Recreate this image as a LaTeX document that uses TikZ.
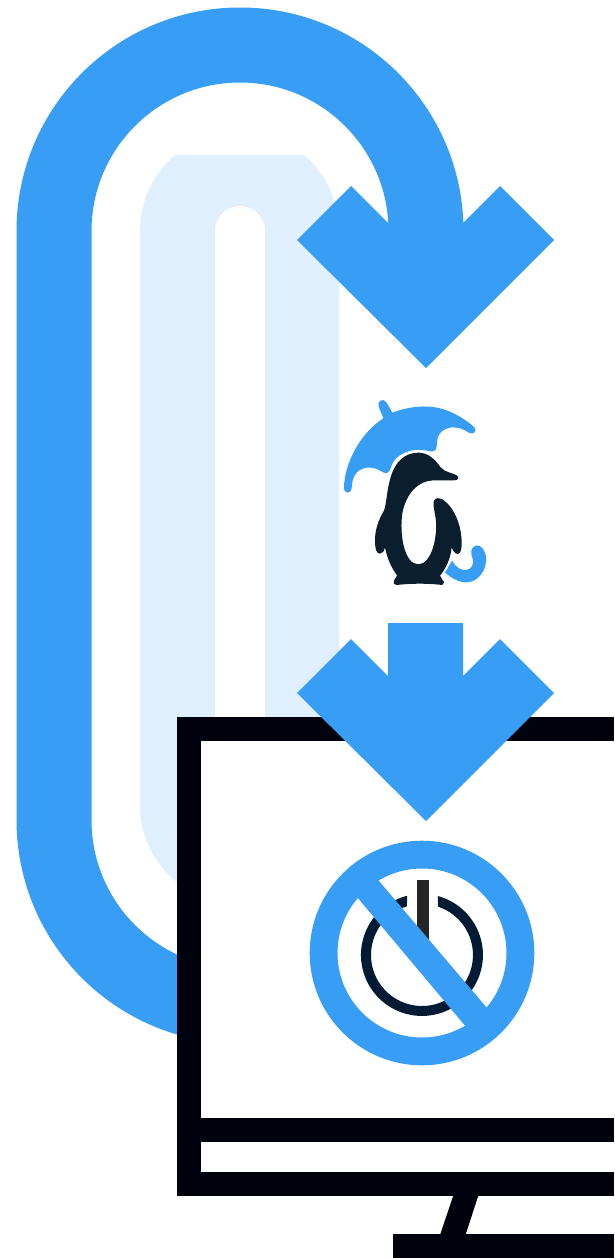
\documentclass[tikz,border=0pt]{standalone}
\definecolor{bl}{HTML}{379DF5}
\definecolor{pale}{HTML}{DFEFFD}
\definecolor{mon}{HTML}{00020E}
\definecolor{peng}{HTML}{0A1E2E}
\definecolor{pwr}{HTML}{001B33}
\definecolor{stick}{HTML}{252525}
\begin{document}
\begin{tikzpicture}[x=1pt,y=1pt,yscale=-1,line join=miter]
\path[use as bounding box] (0,0) rectangle (614,1258);
\fill[white] (0,0) rectangle (614,1258);
% pale loop
\begin{scope}
\clip (0,155) rectangle (614,1258);
\fill[pale] (140,805) -- (140,231) arc[start angle=180,end angle=360,radius=99.5] -- (339,805) arc[start angle=0,end angle=180,radius=99.5] -- cycle;
\end{scope}
\fill[white] (215,231) arc[start angle=180,end angle=360,radius=25] -- (265,900) -- (215,900) -- cycle;
% blue loop
\draw[bl,line width=75pt,line cap=butt] (240,1006) arc[start angle=90,end angle=180,radius=186] -- (54,231) arc[start angle=180,end angle=360,radius=186] -- (426,260);
% monitor
\fill[mon] (177,717) rectangle (614,1196);
\fill[white] (201,741) rectangle (614,1118);
\fill[white] (201,1142) rectangle (614,1172);
\fill[mon] (453.5,1195) -- (478.5,1195) -- (465.5,1235) -- (440,1235) -- cycle;
\fill[mon] (393,1234) rectangle (614,1258);
% arrows
\fill[bl] (297,240) -- (351,186) -- (388,223) -- (463,223) -- (500,186) -- (554,240) -- (426,368) -- cycle;
\fill[bl] (297,693) -- (351,639) -- (388,676) -- (388,623) -- (463,623) -- (463,676) -- (500,639) -- (554,693) -- (426,821) -- cycle;
% penguin with umbrella
\begin{scope}[shift={(330,390)},scale=0.33333]
\fill[bl] (52,308) .. controls (44,308) and (42,300) .. (42,290)
 .. controls (44,220) and (90,130) .. (160,85)
 -- (146,50) .. controls (140,32) and (160,22) .. (170,38)
 -- (187,68) .. controls (240,48) and (290,45) .. (330,55)
 .. controls (370,65) and (410,90) .. (434,113)
 .. controls (442,124) and (430,134) .. (418,129)
 .. controls (395,112) and (362,105) .. (338,122)
 .. controls (322,134) and (321,150) .. (320,170)
 .. controls (318,184) and (308,187) .. (296,183)
 .. controls (262,175) and (225,180) .. (198,205)
 .. controls (186,218) and (184,230) .. (178,243)
 .. controls (172,252) and (162,250) .. (154,244)
 .. controls (128,228) and (98,228) .. (78,250)
 .. controls (68,262) and (66,280) .. (65,294)
 .. controls (64,304) and (58,308) .. (52,308) -- cycle;
\fill[bl] (345,548) -- (366,512) .. controls (376,530) and (392,542) .. (408,540)
 .. controls (426,538) and (432,522) .. (428,506)
 .. controls (420,488) and (422,474) .. (436,467)
 .. controls (452,462) and (464,478) .. (468,500)
 .. controls (472,540) and (445,576) .. (410,577)
 .. controls (385,578) and (362,562) .. (345,548) -- cycle;
\fill[peng] (265,188) .. controls (295,188) and (315,208) .. (332,232)
 .. controls (345,248) and (368,248) .. (380,256)
 .. controls (390,262) and (385,271) .. (372,271)
 -- (310,271) .. controls (265,272) and (228,310) .. (217,370)
 .. controls (208,430) and (222,523) .. (265,523)
 .. controls (305,523) and (322,440) .. (318,395)
 .. controls (316,370) and (308,345) .. (311,335)
 .. controls (314,322) and (328,322) .. (340,330)
 .. controls (375,355) and (396,410) .. (395,465)
 .. controls (394,488) and (388,494) .. (378,491)
 .. controls (370,488) and (368,478) .. (365,472)
 .. controls (362,505) and (348,535) .. (330,557)
 .. controls (332,565) and (342,572) .. (342,578)
 .. controls (340,586) and (334,586) .. (328,584)
 .. controls (290,580) and (240,580) .. (200,585)
 .. controls (192,586) and (188,578) .. (192,572)
 .. controls (194,566) and (200,562) .. (201,556)
 .. controls (182,530) and (170,500) .. (165,472)
 .. controls (162,482) and (160,490) .. (150,491)
 .. controls (138,491) and (135,475) .. (135,450)
 .. controls (135,420) and (145,390) .. (162,362)
 .. controls (170,340) and (170,300) .. (182,262)
 .. controls (195,215) and (225,188) .. (265,188) -- cycle;
\end{scope}
% power symbol
\fill[pwr] (407,895.8) arc[start angle=255.8,end angle=-74.8,radius=61] -- (438,906.6) arc[start angle=-71.7,end angle=252.9,radius=51] -- cycle;
\fill[stick] (417,880) -- (429,880) -- (429,950) -- (417,950) -- cycle;
% no sign
\fill[bl,even odd rule] (422,953) circle[radius=112.3] (422,953) circle[radius=84.5];
\fill[bl] (348.3,886.6) -- (369.3,869.6) -- (496.7,1019.4) -- (475.7,1038.4) -- cycle;
\end{tikzpicture}
\end{document}
